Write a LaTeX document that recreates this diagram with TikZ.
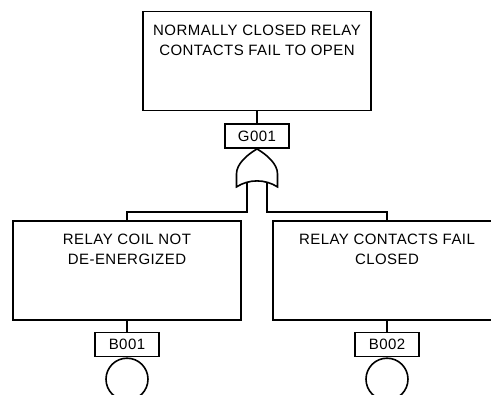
\documentclass[tikz,border=0pt]{standalone}
\usepackage{fontspec}
\setmainfont{Liberation Sans}[LetterSpace=3]
\usetikzlibrary{positioning}

\begin{document}
\begin{tikzpicture}[
    x=1pt, y=1pt,
    node distance=12pt,
    line width=1.6pt,
    eventbox/.style={rectangle, draw, minimum width=228pt, minimum height=99pt, inner sep=0pt},
    desc/.style={align=center, inner sep=0pt, font=\fontsize{15}{20}\selectfont},
    idbox/.style={rectangle, draw, minimum width=64pt, minimum height=24pt, inner sep=0pt,
        font=\fontsize{15}{18}\selectfont},
    basic/.style={circle, draw, minimum size=42pt, inner sep=0pt}
]
\useasboundingbox (0,0) rectangle (491,-395);
% top event
\node[eventbox] (top) at (257,-61) {};
\node[desc, below=14pt of top.north] (toptext) {NORMALLY CLOSED RELAY\\CONTACTS FAIL TO OPEN};
\node[idbox, below=of top] (g001) {G001};
\draw (top) -- (g001);
% or gate
\begin{scope}[shift={(g001.south)}]
\draw (0,0) .. controls (-10,-6) and (-20.5,-15) .. (-20.5,-25) -- (-20.5,-38)
    .. controls (-8,-30) and (8,-30) .. (20.5,-38) -- (20.5,-25)
    .. controls (20.5,-15) and (10,-6) .. (0,0) -- cycle;
\coordinate (orL) at (-10,-33.5);
\coordinate (orR) at (10,-33.5);
\end{scope}
% basic events
\node[eventbox] (left) at (127,-270.5) {};
\node[desc, below=13pt of left.north] (lefttext) {RELAY COIL NOT\\DE-ENERGIZED};
\node[eventbox] (right) at (387,-270.5) {};
\node[desc, below=13pt of right.north] (righttext) {RELAY CONTACTS FAIL\\CLOSED};
\draw (orL) -- ++(0,-29.5) -| (left.north);
\draw (orR) -- ++(0,-29.5) -| (right.north);
\node[idbox, below=11pt of left] (b001) {B001};
\node[idbox, below=11pt of right] (b002) {B002};
\draw (left) -- (b001);
\draw (right) -- (b002);
\node[basic, below=0pt of b001] (e001) {};
\node[basic, below=0pt of b002] (e002) {};
\end{tikzpicture}
\end{document}
